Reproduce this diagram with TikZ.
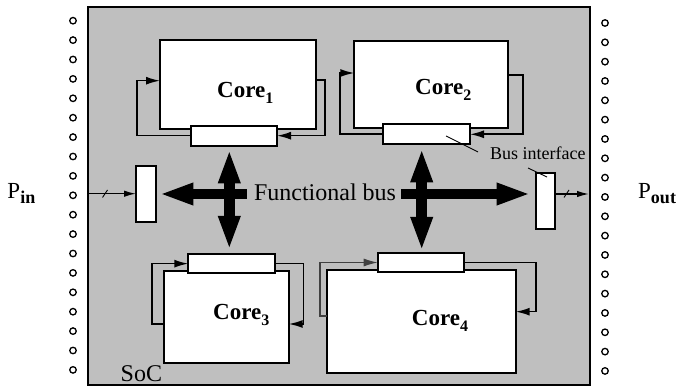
\documentclass[tikz,border=0pt]{standalone}
\usepackage{fontspec}
\setmainfont{Liberation Serif}
\usetikzlibrary{arrows.meta}
\tikzset{bushead/.tip={Triangle[length=34pt,width=20pt]}}
% lowered index set in a smaller size
\newcommand\lsub[2][16]{\raisebox{-5.5pt}{\fontsize{#1}{#1}\selectfont #2}}

\begin{document}
\begin{tikzpicture}[x=1pt,y=-1pt,
  soc/.style={draw, line width=2pt, fill=black!25},
  box/.style={draw, line width=2.2pt, fill=white, inner sep=0pt, outer sep=0pt},
  port/.style={draw, line width=1.3pt, circle, minimum size=6.5pt, inner sep=0pt},
  lp/.style={line width=1.6pt, -{Latex[length=14pt,width=8pt]}},
  lpthin/.style={line width=1.1pt, draw=black!75, -{Latex[length=14pt,width=8pt]}},
  io/.style={line width=1.5pt, -{Latex[length=12pt,width=6.5pt]}},
  bus/.style={line width=10.5pt},
  corelabel/.style={anchor=base west, inner sep=0pt, font=\fontsize{23}{27}\selectfont\bfseries},
  biglabel/.style={anchor=base west, inner sep=0pt, font=\fontsize{23}{27}\selectfont},
  leader/.style={line width=0.9pt}]

\useasboundingbox (0,0) rectangle (689,387);

% chip outline
\draw[soc] (88,7) rectangle (590,385.5);

% pins on both sides
\foreach \i in {0,...,18} {
  \node[port] (pl\i) at (73,20.7+19.4*\i) {};
  \node[port] (pr\i) at (605,23+19.33*\i) {};
}

% cores
\node[box, minimum width=156pt, minimum height=89pt] (c1) at (238,84.5) {};
\node[box, minimum width=153.4pt, minimum height=87pt] (c2) at (431,84.5) {};
\node[box, minimum width=124.7pt, minimum height=92pt] (c3) at (226.35,316.7) {};
\node[box, minimum width=189pt, minimum height=103.3pt] (c4) at (421.2,321.65) {};

% bus interfaces
\node[box, minimum width=86.3pt, minimum height=20pt] (if1) at (233.85,135.7) {};
\node[box, minimum width=87.3pt, minimum height=20pt] (if2) at (426.35,134.3) {};
\node[box, minimum width=86.7pt, minimum height=19.3pt] (if3) at (231.65,263.65) {};
\node[box, minimum width=86.3pt, minimum height=19.6pt] (if4) at (420.85,262.5) {};
\node[box, minimum width=20pt, minimum height=56pt] (inif) at (146,193.7) {};
\node[box, minimum width=19.3pt, minimum height=56pt] (outif) at (545.35,201.3) {};

% core labels
\node[corelabel] (l1) at (217,98) {Core\lsub{1}};
\node[corelabel] (l2) at (415,95) {Core\lsub{2}};
\node[corelabel] (l3) at (213,320) {Core\lsub{3}};
\node[corelabel] (l4) at (411.7,326) {Core\lsub{4}};

% wrapper loops around each core
\draw[lp] (if1.west) -| (136.7,80.7) -- (c1.west |- 0,80.7);
\draw[lp] (c1.east |- 0,80) -| (325,0 |- if1.east) -- (if1.east);
\draw[lp] (if2.west) -| (340,73) -- (c2.west |- 0,73);
\draw[lp] (c2.east |- 0,75) -| (522.7,0 |- if2.east) -- (if2.east);
\draw[lp] (c3.west |- 0,324) -| (151.7,0 |- if3.west) -- (if3.west);
\draw[lp] (if3.east) -| (303.3,324) -- (c3.east |- 0,324);
\draw[lpthin] (c4.west |- 0,316) -| (320,0 |- if4.west) -- (if4.west);
\draw[lp] (if4.east) -| (536,311.7) -- (c4.east |- 0,311.7);

% functional bus
\coordinate (vL) at (229.3,0);
\coordinate (vR) at (421.7,0);
\coordinate (hL) at (246.7,194);
\coordinate (hR) at (401,194);
\draw[bus, {bushead}-{bushead}, shorten <=3.6pt, shorten >=4pt] (if1.south -| vL) -- (if3.north -| vL);
\draw[bus, {bushead}-{bushead}, shorten <=4pt, shorten >=1.7pt] (if2.south -| vR) -- (if4.north -| vR);
\draw[bus, -{bushead}, shorten >=3.3pt] (hL) -- (inif.east |- hL);
\draw[bus, -{bushead}, shorten >=5pt] (hR) -- (outif.west |- hR);
\node[anchor=base, inner sep=0pt, font=\fontsize{24}{28}\selectfont] (fb) at (325,200.5) {Functional bus};

% primary inputs and outputs
\coordinate (pinL) at (89,193.7);
\coordinate (poutR) at (589,194);
\draw[io] (pinL) -- (inif.west);
\draw[line width=0.9pt] (102.5,197.5) -- (107.5,190);
\draw[io] (outif.east |- poutR) -- (poutR);
\draw[line width=0.9pt] (564,197.5) -- (569,190);
\node[biglabel] (pin) at (7.3,198.5) {P\lsub[18]{\bfseries in}};
\node[biglabel] (pout) at (638,198.5) {P\lsub[18]{\bfseries out}};

% bus interface callout
\node[anchor=base west, inner sep=0pt, font=\fontsize{18}{22}\selectfont] (bi) at (490,160) {Bus interface};
\draw[leader] (446,136) -- (478,152);
\draw[leader] (528,168) -- (547,177);

% chip name
\node[anchor=base west, inner sep=0pt, font=\fontsize{24}{28}\selectfont] (soclabel) at (120.5,381.7) {SoC};

\end{tikzpicture}
\end{document}
